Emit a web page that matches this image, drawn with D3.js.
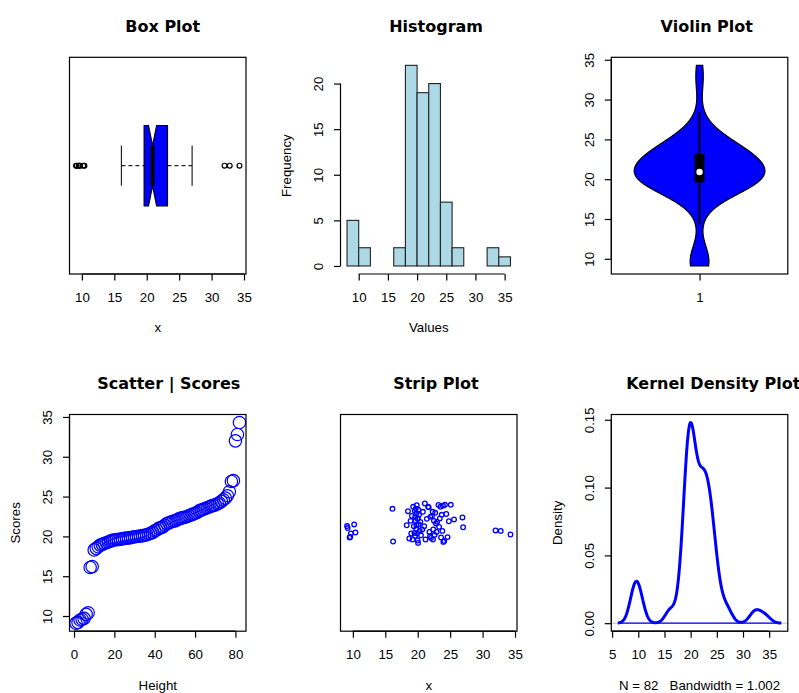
<!DOCTYPE html>
<html><head><meta charset="utf-8">
<script src="https://cdn.jsdelivr.net/npm/d3@7"></script>
<style>
body{margin:0;background:#fff}
svg{display:block}
text{font-family:"Liberation Sans",Arial,Helvetica,sans-serif;fill:#000}
.title{font-family:"DejaVu Sans",sans-serif;font-weight:bold;font-size:16px}
.lab{font-size:13.3px}
</style></head><body>
<script>
// ---- data: 82 scores, in increasing order ----
const scores = [
  9.1, 9.2, 9.5, 9.6, 9.7, 10.2, 10.4,
  16.1, 16.2,
  18.3, 18.5, 18.7, 18.9, 19.0, 19.1, 19.2, 19.3, 19.4, 19.5, 19.55,
  19.6, 19.6, 19.65, 19.7, 19.75, 19.8, 19.8, 19.85, 19.9, 19.95, 19.98,
  20.02, 20.05, 20.1, 20.15, 20.2, 20.3, 20.4, 20.5, 20.7, 20.8,
  21.0, 21.1, 21.2, 21.4, 21.6, 21.7, 21.8, 21.9, 21.95,
  22.05, 22.2, 22.3, 22.35, 22.4, 22.5, 22.6, 22.7, 22.8, 22.9,
  23.0, 23.2, 23.3, 23.4, 23.5, 23.6, 23.7, 23.8, 23.9, 23.95,
  24.1, 24.2, 24.4, 24.6, 24.8, 25.1, 25.6,
  26.9, 27.0,
  32.0, 32.8, 34.3
];
// vertical jitter of each score in the strip chart (same order as scores)
const stripJitter = [
  -0.016, -0.026, -0.073, -0.070, -0.053, -0.008, -0.048,
  0.070, -0.093,
  -0.012, 0.058, -0.078, 0.010, -0.053, 0.035, -0.083, 0.080, -0.017, -0.050, 0.060,
  0.030, -0.065, 0.012, 0.070, -0.030, 0.047, -0.012, 0.088, -0.053, 0.020, -0.088,
  0.022, -0.100, 0.065, -0.008, 0.040, -0.040, 0.005, -0.062, -0.033, 0.055,
  -0.017, 0.097, -0.083, 0.020, 0.080, 0.077, -0.045, -0.067, 0.030,
  -0.075, 0.035, 0.055, -0.083, -0.033, 0.010, -0.060, 0.050, -0.003, -0.045,
  0.005, 0.089, -0.020, 0.022, 0.080, -0.073, 0.040, -0.040, 0.085, -0.095,
  -0.090, 0.090, 0.044, -0.071, 0.008, 0.090, 0.017,
  0.027, -0.022,
  -0.038, -0.040, -0.058
];
const histBreaks = [8, 10, 12, 14, 16, 18, 20, 22, 24, 26, 28, 30, 32, 34, 36];
const kdeBandwidth = 1.002;
const valueTicks = [10, 15, 20, 25, 30, 35];
const freqTicks = [0, 5, 10, 15, 20];
const indexTicks = [0, 20, 40, 60, 80];
const kdeXTicks = [5, 10, 15, 20, 25, 30, 35];
const densityTicks = [0, 0.05, 0.10, 0.15];
const groupTicks = [1];
const titles = ["Box Plot", "Histogram", "Violin Plot", "Scatter | Scores", "Strip Plot", "Kernel Density Plot"];

// ---- layout ----
const W = 799, H = 693;
const colX = [69.5, 340.5, 611.3], rowY = [57.3, 414.5];
const PW = 176.5, PH = 216.7;
const BLUE = "#0000ff";

const svg = d3.select("body").append("svg").attr("width", W).attr("height", H);
svg.append("rect").attr("width", W).attr("height", H).attr("fill", "#fff");

const ext = ([a, b]) => { const d = (b - a) * 0.04; return [a - d, b + d]; };
const n = scores.length;

// titles start where a Helvetica-metric string centred on the panel would start
function titleStart(t) {
  const probe = svg.append("text").style("font-family", "'Liberation Sans',Arial,sans-serif")
    .style("font-weight", "bold").style("font-size", "16px").text(t);
  const w = probe.node().getComputedTextLength();
  probe.remove();
  return PW / 2 - w / 2;
}
function panel(c, r, t) {
  const g = svg.append("g").attr("transform", `translate(${colX[c]},${rowY[r]})`);
  g.append("text").attr("class", "title").attr("x", titleStart(t)).attr("y", -31)
    .attr("text-anchor", "start").attr("dominant-baseline", "central").text(t);
  return g;
}
function frame(g) {
  g.append("rect").attr("width", PW).attr("height", PH)
    .attr("fill", "none").attr("stroke", "#000").attr("stroke-width", 1.2);
}
function styleAxis(a, ticks, scale, horizontal) {
  a.select(".domain").remove();
  a.selectAll(".tick line").attr("stroke", "#000").attr("stroke-width", 1.2);
  a.selectAll("text").attr("class", "lab").style("font-size", "13.3px")
    .attr("fill", "#000").style("font-family", "'Liberation Sans',Arial,sans-serif");
  const p0 = scale(ticks[0]), p1 = scale(ticks[ticks.length - 1]);
  a.append("line").attr("stroke", "#000").attr("stroke-width", 1.2)
    .attr(horizontal ? "x1" : "y1", p0).attr(horizontal ? "x2" : "y2", p1);
}
function xAxis(g, scale, ticks, fmt, y = PH) {
  const ax = d3.axisBottom(scale).tickValues(ticks).tickSize(6.5).tickSizeOuter(0).tickPadding(11.7);
  if (fmt) ax.tickFormat(fmt);
  const a = g.append("g").attr("transform", `translate(0,${y})`).call(ax);
  styleAxis(a, ticks, scale, true);
  return a;
}
function yAxis(g, scale, ticks, fmt, x = 0) {
  const ax = d3.axisLeft(scale).tickValues(ticks).tickSize(6.5).tickSizeOuter(0);
  if (fmt) ax.tickFormat(fmt);
  const a = g.append("g").attr("transform", `translate(${x},0)`).call(ax);
  styleAxis(a, ticks, scale, false);
  a.selectAll(".tick text").attr("x", null).attr("dy", null).attr("text-anchor", "middle")
    .attr("dominant-baseline", "central").attr("transform", "translate(-22,0) rotate(-90)");
  return a;
}
function xLabel(g, t) {
  return g.append("text").attr("class", "lab").attr("x", PW / 2).attr("y", PH + 58.5)
    .attr("text-anchor", "middle").style("white-space", "pre").text(t);
}
function yLabel(g, t) {
  g.append("text").attr("class", "lab").attr("text-anchor", "middle")
    .attr("dominant-baseline", "central")
    .attr("transform", `translate(-53.7,${PH / 2}) rotate(-90)`).text(t);
}
const gauss = u => Math.exp(-0.5 * u * u) / Math.sqrt(2 * Math.PI);
function kde(data, h, from, to, m = 512) {
  return d3.range(m).map(i => {
    const x = from + (to - from) * i / (m - 1);
    return [x, d3.sum(data, v => gauss((x - v) / h)) / (data.length * h)];
  });
}

const vmin = d3.min(scores), vmax = d3.max(scores);

// ---- 1. notched horizontal box plot ----
{
  const g = panel(0, 0, titles[0]);
  const x = d3.scaleLinear().domain(ext([vmin, vmax])).range([0, PW]);
  const y = d3.scaleLinear().domain(ext([0.5, 1.5])).range([PH, 0]);
  // Tukey five-number summary (hinges)
  const n4 = Math.floor((n + 3) / 2) / 2;
  const at = p => 0.5 * (scores[Math.floor(p) - 1] + scores[Math.ceil(p) - 1]);
  const lo = at(n4), med = at((n + 1) / 2), hi = at(n + 1 - n4);
  const iqr = hi - lo;
  const inside = scores.filter(v => v >= lo - 1.5 * iqr && v <= hi + 1.5 * iqr);
  const wLo = d3.min(inside), wHi = d3.max(inside);
  const outl = scores.filter(v => v < wLo || v > wHi);
  const nc = 1.58 * iqr / Math.sqrt(n);
  const bw = 0.2, sw = 0.1;
  // whiskers and staples
  [[wLo, lo], [hi, wHi]].forEach(([a, b]) => {
    g.append("line").attr("x1", x(a)).attr("x2", x(b)).attr("y1", y(1)).attr("y2", y(1))
      .attr("stroke", "#222").attr("stroke-width", 1.2).attr("stroke-dasharray", "4,3");
  });
  [wLo, wHi].forEach(v => g.append("line").attr("x1", x(v)).attr("x2", x(v))
    .attr("y1", y(1 - sw)).attr("y2", y(1 + sw)).attr("stroke", "#222").attr("stroke-width", 1.2));
  const xs = [lo, lo, med - nc, med, med + nc, hi, hi, med + nc, med, med - nc];
  const ys = [1 - bw, 1 + bw, 1 + bw, 1 + bw / 2, 1 + bw, 1 + bw, 1 - bw, 1 - bw, 1 - bw / 2, 1 - bw];
  g.append("path").attr("d", d3.line()(xs.map((v, i) => [x(v), y(ys[i])])) + "Z")
    .attr("fill", BLUE).attr("stroke", "#000").attr("stroke-width", 1.2);
  g.append("line").attr("x1", x(med)).attr("x2", x(med)).attr("y1", y(1 - bw / 2)).attr("y2", y(1 + bw / 2))
    .attr("stroke", "#000").attr("stroke-width", 4);
  g.selectAll("circle.o").data(outl).join("circle").attr("cx", d => x(d)).attr("cy", y(1)).attr("r", 2.4)
    .attr("fill", "none").attr("stroke", "#000").attr("stroke-width", 1.2);
  frame(g);
  xAxis(g, x, valueTicks);
  xLabel(g, "x");
}

// ---- 2. histogram ----
{
  const g = panel(1, 0, titles[1]);
  const bins = d3.bin().domain([histBreaks[0], histBreaks[histBreaks.length - 1]]).thresholds(histBreaks.slice(1, -1))(scores);
  const x = d3.scaleLinear().domain(ext([histBreaks[0], histBreaks[histBreaks.length - 1]])).range([0, PW]);
  const y = d3.scaleLinear().domain(ext([0, d3.max(bins, b => b.length)])).range([PH, 0]);
  g.selectAll("rect.bar").data(bins).join("rect")
    .attr("x", b => x(b.x0)).attr("width", b => x(b.x1) - x(b.x0))
    .attr("y", b => y(b.length)).attr("height", b => y(0) - y(b.length))
    .attr("fill", "#add8e6").attr("stroke", "#222").attr("stroke-width", 1.1);
  xAxis(g, x, valueTicks);
  yAxis(g, y, freqTicks);
  xLabel(g, "Values");
  yLabel(g, "Frequency");
}

// ---- 3. violin plot ----
{
  const g = panel(2, 0, titles[2]);
  const x = d3.scaleLinear().domain(ext([0.5, 1.5])).range([0, PW]);
  const y = d3.scaleLinear().domain(ext([vmin, vmax])).range([PH, 0]);
  const h = d3.deviation(scores) * Math.pow(4 / (3 * n), 0.2);
  const dens = kde(scores, h, vmin, vmax);
  const dmax = d3.max(dens, d => d[1]);
  const wscale = 0.4 / dmax;
  const outline = dens.map(d => [x(1 - d[1] * wscale), y(d[0])])
    .concat(dens.slice().reverse().map(d => [x(1 + d[1] * wscale), y(d[0])]));
  g.append("path").attr("d", d3.line()(outline) + "Z")
    .attr("fill", BLUE).attr("stroke", "#000").attr("stroke-width", 1.2);
  const q1 = d3.quantile(scores, 0.25), q3 = d3.quantile(scores, 0.75), md = d3.median(scores);
  const iqr = q3 - q1;
  const up = Math.min(q3 + 1.5 * iqr, vmax), dn = Math.max(q1 - 1.5 * iqr, vmin);
  g.append("line").attr("x1", x(1)).attr("x2", x(1)).attr("y1", y(dn)).attr("y2", y(up))
    .attr("stroke", "#000").attr("stroke-width", 2);
  g.append("rect").attr("x", x(1 - 0.03)).attr("width", x(1.03) - x(0.97))
    .attr("y", y(q3)).attr("height", y(q1) - y(q3)).attr("fill", "#000");
  g.append("circle").attr("cx", x(1)).attr("cy", y(md)).attr("r", 3.2).attr("fill", "#fff");
  frame(g);
  xAxis(g, x, groupTicks, d3.format("d"));
  yAxis(g, y, valueTicks);
}

// ---- 4. scatter of scores against their rank ----
{
  const g = panel(0, 1, titles[3]);
  const x = d3.scaleLinear().domain(ext([1, n])).range([0, PW]);
  const y = d3.scaleLinear().domain(ext([vmin, vmax])).range([PH, 0]);
  g.selectAll("circle").data(scores).join("circle")
    .attr("cx", (d, i) => x(i + 1)).attr("cy", d => y(d)).attr("r", 6.2)
    .attr("fill", "none").attr("stroke", BLUE).attr("stroke-width", 1.2);
  frame(g);
  xAxis(g, x, indexTicks);
  yAxis(g, y, valueTicks);
  xLabel(g, "Height");
  yLabel(g, "Scores");
}

// ---- 5. strip chart ----
{
  const g = panel(1, 1, titles[4]);
  const x = d3.scaleLinear().domain(ext([vmin, vmax])).range([0, PW]);
  const y = d3.scaleLinear().domain(ext([0.5, 1.5])).range([PH, 0]);
  g.selectAll("circle").data(scores).join("circle")
    .attr("cx", d => x(d)).attr("cy", (d, i) => y(1 + stripJitter[i])).attr("r", 2.3)
    .attr("fill", "none").attr("stroke", BLUE).attr("stroke-width", 1.3);
  frame(g);
  xAxis(g, x, valueTicks);
  xLabel(g, "x");
}

// ---- 6. kernel density ----
{
  const g = panel(2, 1, titles[5]);
  const dens = kde(scores, kdeBandwidth, vmin - 3 * kdeBandwidth, vmax + 3 * kdeBandwidth);
  const x = d3.scaleLinear().domain(ext(d3.extent(dens, d => d[0]))).range([0, PW]);
  const y = d3.scaleLinear().domain(ext([0, d3.max(dens, d => d[1])])).range([PH, 0]);
  g.append("line").attr("x1", 0).attr("x2", PW).attr("y1", y(0)).attr("y2", y(0))
    .attr("stroke", "#bebebe").attr("stroke-width", 1);
  g.append("path").attr("d", d3.line().x(d => x(d[0])).y(d => y(d[1]))(dens))
    .attr("fill", "none").attr("stroke", BLUE).attr("stroke-width", 3).attr("stroke-linejoin", "round");
  g.append("line").attr("x1", x(dens[0][0])).attr("x2", x(dens[dens.length - 1][0]))
    .attr("y1", y(0)).attr("y2", y(0)).attr("stroke", BLUE).attr("stroke-width", 1.2);
  frame(g);
  xAxis(g, x, kdeXTicks);
  yAxis(g, y, densityTicks, d3.format(".2f"));
  xLabel(g, `N = ${n}   Bandwidth = ${kdeBandwidth.toFixed(3)}`);
  yLabel(g, "Density");
}
</script>
</body></html>
